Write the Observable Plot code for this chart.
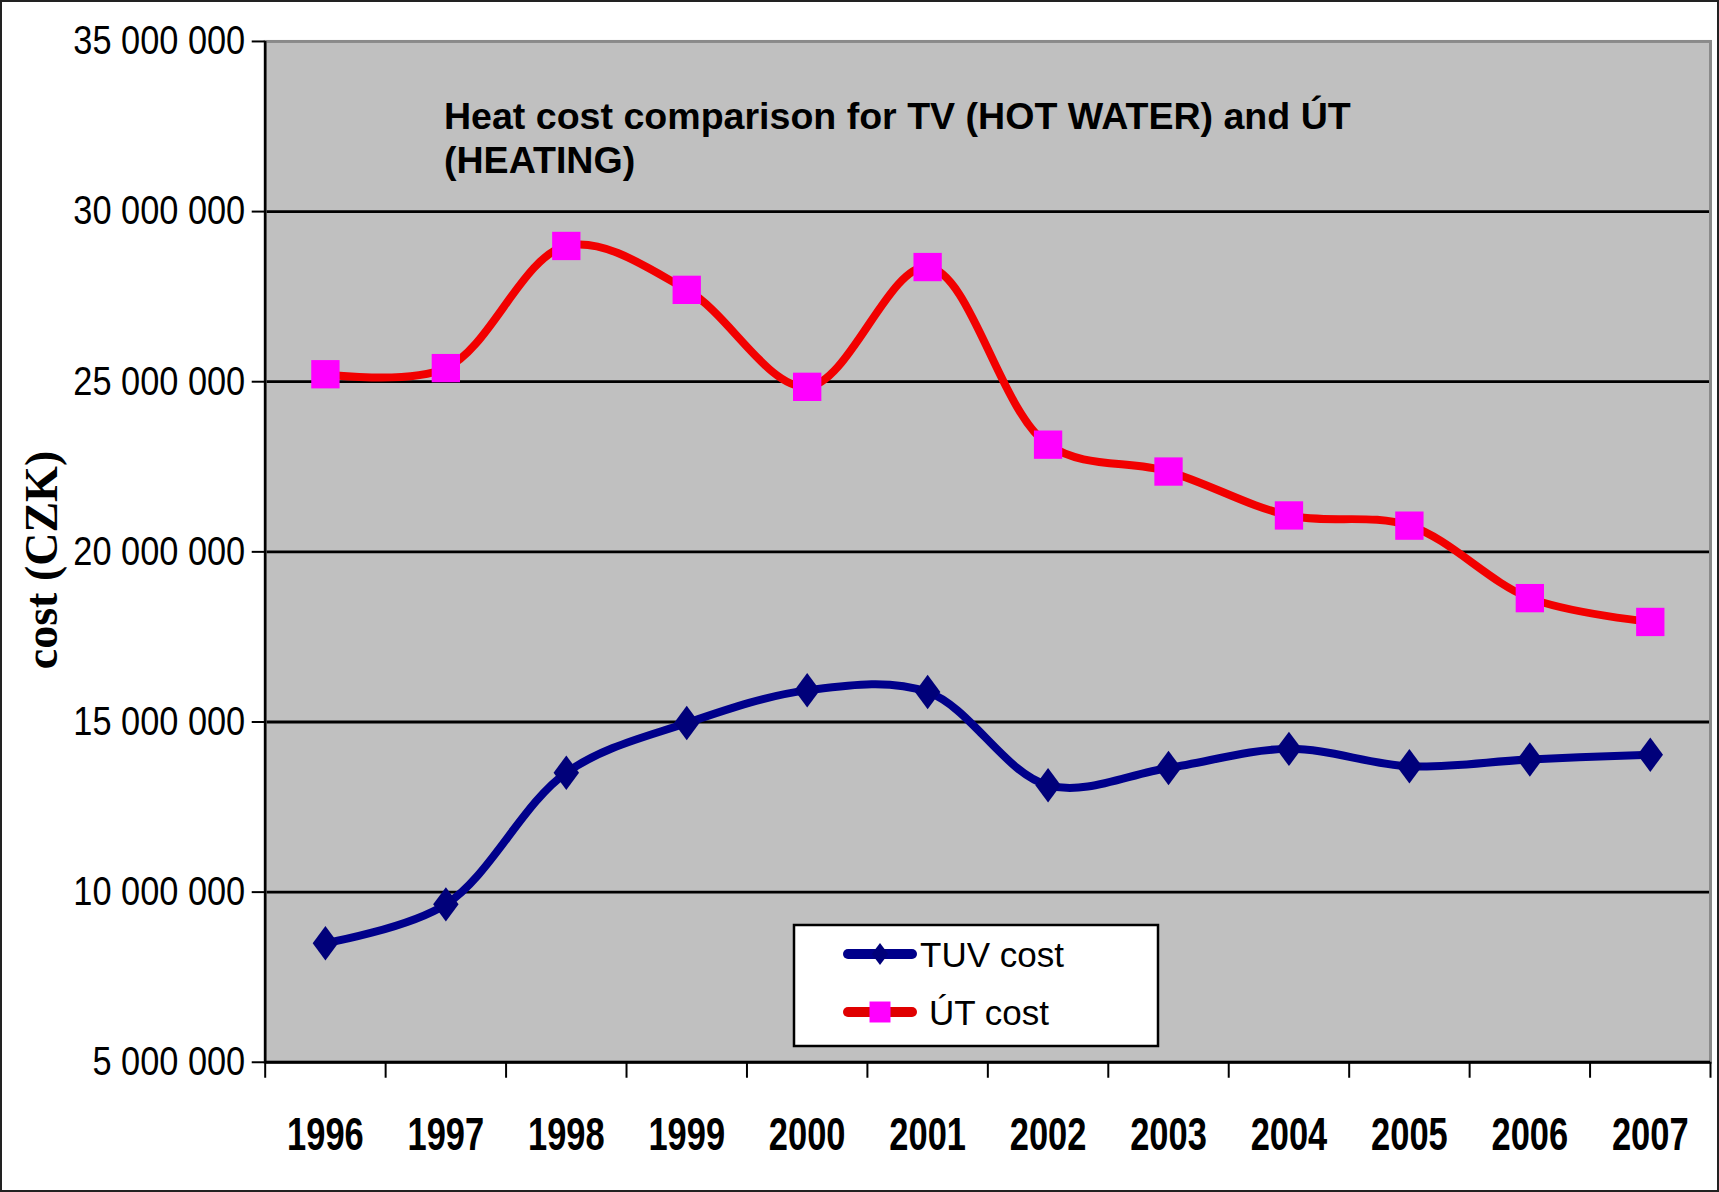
<!DOCTYPE html>
<html><head><meta charset="utf-8">
<script src="https://cdn.jsdelivr.net/npm/d3@7"></script>
<script src="https://cdn.jsdelivr.net/npm/@observablehq/plot@0.6"></script>
<style>
body{margin:0;background:#fff;}
#wrap{position:relative;width:1719px;height:1192px;box-sizing:border-box;border:2px solid #222;overflow:hidden;background:#fff;}
#chart{position:absolute;left:-2px;top:-2px;}
#legend{position:absolute;left:788px;top:919px;}
#ytitle{position:absolute;left:-110px;top:533px;width:300px;height:50px;line-height:50px;text-align:center;
  transform:rotate(-90deg);transform-origin:150px 25px;font-family:'Liberation Serif','Times New Roman',serif;font-weight:bold;font-size:46px;color:#000;white-space:nowrap;}
</style></head><body>
<div id="wrap"><div id="chart"></div><div id="legend"></div><div id="ytitle"></div></div>
<script>
const years = [1996, 1997, 1998, 1999, 2000, 2001, 2002, 2003, 2004, 2005, 2006, 2007];
const tuvCost = [8.5e6, 9.64e6, 13.51e6, 14.97e6, 15.93e6, 15.88e6, 13.14e6, 13.65e6, 14.21e6, 13.70e6, 13.90e6, 14.04e6];
const utCost = [25.22e6, 25.40e6, 28.99e6, 27.70e6, 24.85e6, 28.37e6, 23.15e6, 22.36e6, 21.07e6, 20.77e6, 18.64e6, 17.94e6];
const yTicks = [5e6, 10e6, 15e6, 20e6, 25e6, 30e6, 35e6];
const seriesNames = ["TUV cost", "ÚT cost"];
const titleText = "Heat cost comparison for TV (HOT WATER) and ÚT\n(HEATING)";
const yTitle = "cost (CZK)";

const tuvRows = years.map((y, i) => ({year: y, value: tuvCost[i], series: seriesNames[0]}));
const utRows = years.map((y, i) => ({year: y, value: utCost[i], series: seriesNames[1]}));
const boundaries = d3.range(years[0] - 0.5, years[years.length - 1] + 1, 1);

const fmt = v => d3.format(",")(v).replace(/,/g, " ");
const diamond = {draw(ctx, size) {
  const r = Math.sqrt(size / Math.PI);
  ctx.moveTo(0, -r * 1.15); ctx.lineTo(r * 0.85, 0); ctx.lineTo(0, r * 1.15); ctx.lineTo(-r * 0.85, 0); ctx.closePath();
}};

const chart = Plot.plot({
  width: 1719, height: 1192,
  marginLeft: 265, marginRight: 7, marginTop: 41, marginBottom: 129,
  style: {background: "transparent", fontFamily: "Arial, 'Liberation Sans', sans-serif", color: "#000"},
  x: {domain: [boundaries[0], boundaries[boundaries.length - 1]]},
  y: {domain: [yTicks[0], yTicks[yTicks.length - 1]]},
  marks: [
    Plot.frame({fill: "#c0c0c0", stroke: "none"}),
    Plot.gridY(yTicks.slice(1, -1), {stroke: "#000", strokeOpacity: 1, strokeWidth: 2.8}),
    Plot.frame({stroke: "#8a8a8a", strokeWidth: 3}),
    Plot.ruleX([boundaries[0]], {stroke: "#000", strokeWidth: 2.5}),
    Plot.ruleY([yTicks[0]], {stroke: "#000", strokeWidth: 2.8}),
    Plot.axisY({ticks: yTicks, tickFormat: fmt, tickSize: 13, tickPadding: 7, fontSize: 40, label: null, strokeWidth: 2}),
    Plot.axisX({ticks: boundaries, tickSize: 16, tickFormat: () => "", label: null, strokeWidth: 2}),
    Plot.axisX({ticks: years, tickSize: 0, tickPadding: 55, tickFormat: d => String(d), fontSize: 46, fontWeight: "bold", label: null}),
    Plot.line(utRows, {x: "year", y: "value", stroke: "#f20000", strokeWidth: 8, curve: "catmull-rom"}),
    Plot.dot(utRows, {x: "year", y: "value", symbol: "square", r: 16, fill: "#ff00ff"}),
    Plot.line(tuvRows, {x: "year", y: "value", stroke: "#00008b", strokeWidth: 8, curve: "catmull-rom"}),
    Plot.dot(tuvRows, {x: "year", y: "value", symbol: diamond, r: 15, fill: "#00007a"}),
    Plot.text([titleText], {text: d => d, frameAnchor: "top-left", dx: 179, dy: 57, fontSize: 37.6, fontWeight: "bold", lineHeight: 1.16, textAnchor: "start", lineAnchor: "top", fill: "#000"})
  ]
});
document.getElementById("chart").appendChild(chart);
document.getElementById("ytitle").textContent = yTitle;

const svg = d3.select(chart);
svg.selectAll('g[aria-label="y-axis tick label"] text').each(function() {
  const t = this.getAttribute("transform") || "";
  this.setAttribute("transform", t + " scale(0.86,1)");
});
svg.selectAll('g[aria-label="x-axis tick label"]').attr("font-weight", "bold").attr("font-size", 46);
svg.selectAll('g[aria-label="x-axis tick label"] text').each(function() {
  const t = this.getAttribute("transform") || "";
  this.setAttribute("transform", t + " scale(0.75,1)");
});

// legend
const lg = d3.select("#legend").append("svg").attr("width", 372).attr("height", 130);
lg.append("rect").attr("x", 4).attr("y", 4).attr("width", 364).attr("height", 121).attr("fill", "#fff").attr("stroke", "#000").attr("stroke-width", 2.5);
const legendItems = [
  {name: seriesNames[0], line: "#00008b", mark: "#00007a", sym: diamond, ty: 33, tx: 130, size: 9 * 9 * Math.PI * 1.15},
  {name: seriesNames[1], line: "#e00000", mark: "#ff00ff", sym: d3.symbolSquare, ty: 91, tx: 139, size: 440}
];
legendItems.forEach(it => {
  lg.append("line").attr("x1", 58).attr("x2", 122).attr("y1", it.ty).attr("y2", it.ty).attr("stroke", it.line).attr("stroke-width", 10).attr("stroke-linecap", "round");
  lg.append("path").attr("transform", `translate(90,${it.ty})`).attr("d", d3.symbol(it.sym, it.size)()).attr("fill", it.mark);
  lg.append("text").attr("x", it.tx).attr("y", it.ty + 13).attr("font-family", "Arial, 'Liberation Sans', sans-serif").attr("font-size", 35).attr("fill", "#000").text(it.name);
});
</script>
</body></html>
